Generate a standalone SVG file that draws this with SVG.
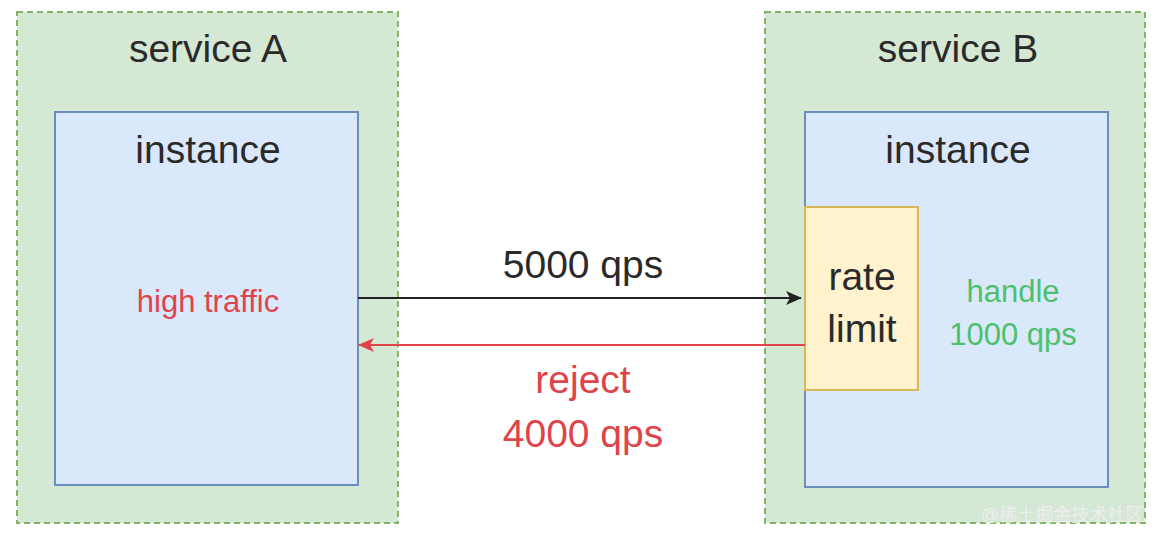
<svg xmlns="http://www.w3.org/2000/svg" width="1161" height="542" viewBox="0 0 1161 542">
<style>
.svc{fill:#d5e8d4;stroke:#82b366;stroke-width:2;stroke-dasharray:6 4}
.inst{fill:#dae8fc;stroke:#6c8ebf;stroke-width:2}
text{font-family:"Liberation Sans",Arial,sans-serif;text-anchor:middle}
.big{font-size:39px;fill:#2a2a2a}
.red{fill:#e0444a}
.grn{fill:#4cc06a}
</style>
<defs>
<marker id="ab" markerWidth="16" markerHeight="16" refX="15" refY="8" orient="auto" markerUnits="userSpaceOnUse"><path d="M0,1 L16,8 L0,15 L4,8 Z" fill="#222"/></marker>
<marker id="ar" markerWidth="16" markerHeight="16" refX="15" refY="8" orient="auto" markerUnits="userSpaceOnUse"><path d="M0,1 L16,8 L0,15 L4,8 Z" fill="#e0444a"/></marker>
</defs>
<rect width="1161" height="542" fill="#fff"/>
<g id="serviceA"><rect class="svc" x="17" y="12" width="381" height="511"/><text class="big" x="208" y="62">service A</text></g>
<g id="instanceA"><rect class="inst" x="55" y="112" width="303" height="373"/><text class="big" x="208" y="163">instance</text><text class="red" x="208" y="312" font-size="31">high traffic</text></g>
<g id="serviceB"><rect class="svc" x="765" y="12" width="380" height="511"/><text class="big" x="958" y="62">service B</text></g>
<g id="instanceB"><rect class="inst" x="805" y="112" width="303" height="375"/><text class="big" x="958" y="163">instance</text><text class="grn" x="1013" y="302" font-size="31">handle</text><text class="grn" x="1013" y="345" font-size="31">1000 qps</text></g>
<g id="ratelimit"><rect x="805" y="207" width="113" height="183" fill="#fff2cc" stroke="#d6b656" stroke-width="2"/><text class="big" x="862" y="290">rate</text><text class="big" x="862" y="342">limit</text></g>
<g id="connectors">
<line x1="358" y1="298" x2="801" y2="298" stroke="#222" stroke-width="2" marker-end="url(#ab)"/>
<line x1="805" y1="345" x2="359" y2="345" stroke="#e0444a" stroke-width="2" marker-end="url(#ar)"/>
<text class="big" x="583" y="278">5000 qps</text>
<text class="big red" x="583" y="393">reject</text>
<text class="big red" x="583" y="447">4000 qps</text>
</g>
<text x="1062" y="521" font-size="18" fill="#eee" style="font-family:'Liberation Sans','Noto Sans CJK SC',sans-serif">@稀土掘金技术社区</text>
</svg>
